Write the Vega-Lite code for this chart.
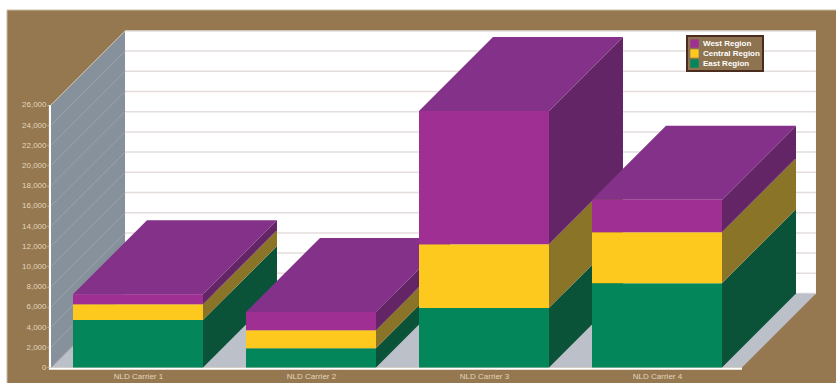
{
  "$schema": "https://vega.github.io/schema/vega-lite/v6.json",
  "width": 836,
  "height": 383,
  "padding": 0,
  "autosize": "none",
  "background": "#ffffff",
  "config": {"view": {"stroke": null}},
  "datasets": {
    "sales": [
      {"carrier": "NLD Carrier 1", "region": "East Region", "value": 4700},
      {"carrier": "NLD Carrier 1", "region": "Central Region", "value": 1550},
      {"carrier": "NLD Carrier 1", "region": "West Region", "value": 1000},
      {"carrier": "NLD Carrier 2", "region": "East Region", "value": 1900},
      {"carrier": "NLD Carrier 2", "region": "Central Region", "value": 1800},
      {"carrier": "NLD Carrier 2", "region": "West Region", "value": 1800},
      {"carrier": "NLD Carrier 3", "region": "East Region", "value": 5900},
      {"carrier": "NLD Carrier 3", "region": "Central Region", "value": 6300},
      {"carrier": "NLD Carrier 3", "region": "West Region", "value": 13200},
      {"carrier": "NLD Carrier 4", "region": "East Region", "value": 8350},
      {"carrier": "NLD Carrier 4", "region": "Central Region", "value": 5050},
      {"carrier": "NLD Carrier 4", "region": "West Region", "value": 3200}
    ],
    "ticks": [
      {"tick": 0}, {"tick": 2000}, {"tick": 4000}, {"tick": 6000}, {"tick": 8000},
      {"tick": 10000}, {"tick": 12000}, {"tick": 14000}, {"tick": 16000}, {"tick": 18000},
      {"tick": 20000}, {"tick": 22000}, {"tick": 24000}, {"tick": 26000}
    ],
    "planeEnds": [{"depth": 0}, {"depth": 1}],
    "single": [{"part": "chart"}]
  },
  "layer": [
    {
      "data": {"name": "single"},
      "mark": {"type": "rect", "fill": "#957850", "stroke": "#c9bda5", "strokeWidth": 1},
      "encoding": {
        "x": {
          "datum": -0.7572,
          "type": "quantitative",
          "title": null,
          "scale": {"domain": [-0.7977, 4.0347], "nice": false, "zero": false},
          "axis": {
            "values": [0, 1, 2, 3],
            "tickCount": 4,
            "labelExpr": "['NLD Carrier 1','NLD Carrier 2','NLD Carrier 3','NLD Carrier 4'][datum.value]",
            "domain": false,
            "ticks": false,
            "grid": false,
            "title": null,
            "zindex": 1,
            "offset": -11,
            "labelPadding": 0,
            "labelFont": "Liberation Sans",
            "labelFontSize": 8,
            "labelColor": "#e2d6bd",
            "labelFlush": false,
            "labelOverlap": false
          }
        },
        "x2": {"datum": 4.06},
        "y": {
          "datum": -1750,
          "type": "quantitative",
          "title": null,
          "scale": {"domain": [-1535, 36386], "nice": false, "zero": false},
          "axis": {
            "values": [0, 2000, 4000, 6000, 8000, 10000, 12000, 14000, 16000, 18000, 20000, 22000, 24000, 26000],
            "tickCount": 14,
            "format": ",d",
            "domain": false,
            "grid": false,
            "title": null,
            "zindex": 1,
            "offset": -49,
            "tickSize": 2,
            "tickColor": "#c9bda5",
            "labelPadding": 1,
            "labelFont": "Liberation Sans",
            "labelFontSize": 8,
            "labelColor": "#e2d6bd",
            "labelOverlap": false
          }
        },
        "y2": {"datum": 35396}
      }
    },
    {
      "data": {"name": "single"},
      "mark": {"type": "rect", "fill": "#ffffff"},
      "encoding": {
        "x": {"datum": -0.0752, "type": "quantitative"},
        "x2": {"datum": 3.919},
        "y": {"datum": 7327, "type": "quantitative"},
        "y2": {"datum": 33327}
      }
    },
    {
      "data": {"name": "ticks"},
      "transform": [{"calculate": "datum.tick + 7327", "as": "back"}],
      "mark": {"type": "rule", "stroke": "#e3dedc", "strokeWidth": 1.5},
      "encoding": {
        "x": {"datum": -0.0752, "type": "quantitative"},
        "x2": {"datum": 3.919},
        "y": {"field": "back", "type": "quantitative"}
      }
    },
    {
      "data": {"name": "planeEnds"},
      "transform": [
        {"calculate": "datum.depth * 7327", "as": "yBack"},
        {"calculate": "-0.5029 + datum.depth * 0.4277", "as": "xLeft"},
        {"calculate": "3.4913 + datum.depth * 0.4277", "as": "xRight"}
      ],
      "mark": {"type": "area", "orient": "horizontal", "fill": "#bcc0c8"},
      "encoding": {
        "y": {"field": "yBack", "type": "quantitative", "stack": null},
        "x": {"field": "xLeft", "type": "quantitative"},
        "x2": {"field": "xRight"}
      }
    },
    {
      "data": {"name": "planeEnds"},
      "transform": [
        {"calculate": "-0.5029 + datum.depth * 0.4277", "as": "xWall"},
        {"calculate": "datum.depth * 7327", "as": "yLow"},
        {"calculate": "26000 + datum.depth * 7327", "as": "yHigh"}
      ],
      "mark": {"type": "area", "orient": "vertical", "fill": "#86919c"},
      "encoding": {
        "x": {"field": "xWall", "type": "quantitative"},
        "y": {"field": "yLow", "type": "quantitative", "stack": null},
        "y2": {"field": "yHigh"}
      }
    },
    {
      "data": {"name": "ticks"},
      "transform": [{"calculate": "datum.tick + 7327", "as": "back"}],
      "mark": {"type": "rule", "strokeWidth": 1},
      "encoding": {
        "x": {"datum": -0.5029, "type": "quantitative"},
        "x2": {"datum": -0.0752},
        "y": {"field": "tick", "type": "quantitative"},
        "y2": {"field": "back"},
        "stroke": {"condition": {"test": "datum.tick === 26000", "value": "#cfc9bb"}, "value": "#9ba4ad"}
      }
    },
    {
      "data": {"name": "single"},
      "mark": {"type": "rect", "fill": "#ffffff"},
      "encoding": {
        "x": {"datum": -0.515, "type": "quantitative"},
        "x2": {"datum": 3.4913},
        "y": {"datum": -230, "type": "quantitative"},
        "y2": {"datum": 0}
      }
    },
    {
      "data": {"name": "single"},
      "mark": {"type": "rect", "fill": "#ffffff"},
      "encoding": {
        "x": {"datum": -0.515, "type": "quantitative"},
        "x2": {"datum": -0.5029},
        "y": {"datum": 0, "type": "quantitative"},
        "y2": {"datum": 26000}
      }
    },
    {
      "data": {"name": "sales"},
      "transform": [
        {"stack": "value", "groupby": ["carrier"], "as": ["low", "high"]},
        {"calculate": "indexof(['NLD Carrier 1','NLD Carrier 2','NLD Carrier 3','NLD Carrier 4'], datum.carrier)", "as": "slot"},
        {"calculate": "[0, 1]", "as": "depth"},
        {"flatten": ["depth"]},
        {"calculate": "datum.slot + 0.3757 + datum.depth * 0.4277", "as": "xSide"},
        {"calculate": "datum.low + datum.depth * 7327", "as": "ySideLow"},
        {"calculate": "datum.high + datum.depth * 7327", "as": "ySideHigh"}
      ],
      "mark": {"type": "area", "orient": "vertical"},
      "encoding": {
        "x": {"field": "xSide", "type": "quantitative"},
        "y": {"field": "ySideLow", "type": "quantitative", "stack": null},
        "y2": {"field": "ySideHigh"},
        "detail": {"field": "carrier"},
        "fill": {
          "field": "region",
          "type": "nominal",
          "legend": null,
          "scale": {"domain": ["West Region", "Central Region", "East Region"], "range": ["#632565", "#8a7427", "#0a5238"]}
        }
      }
    },
    {
      "data": {"name": "sales"},
      "transform": [
        {"stack": "value", "groupby": ["carrier"], "as": ["low", "high"]},
        {"filter": "datum.region === 'West Region'"},
        {"calculate": "indexof(['NLD Carrier 1','NLD Carrier 2','NLD Carrier 3','NLD Carrier 4'], datum.carrier)", "as": "slot"},
        {"calculate": "[0, 1]", "as": "depth"},
        {"flatten": ["depth"]},
        {"calculate": "datum.slot - 0.3757 + datum.depth * 0.4277", "as": "xTopLeft"},
        {"calculate": "datum.slot + 0.3757 + datum.depth * 0.4277", "as": "xTopRight"},
        {"calculate": "datum.high + datum.depth * 7327", "as": "yTop"}
      ],
      "mark": {"type": "area", "orient": "horizontal", "fill": "#84318a"},
      "encoding": {
        "y": {"field": "yTop", "type": "quantitative", "stack": null},
        "x": {"field": "xTopLeft", "type": "quantitative"},
        "x2": {"field": "xTopRight"},
        "detail": {"field": "carrier"}
      }
    },
    {
      "data": {"name": "sales"},
      "transform": [
        {"stack": "value", "groupby": ["carrier"], "as": ["low", "high"]},
        {"calculate": "indexof(['NLD Carrier 1','NLD Carrier 2','NLD Carrier 3','NLD Carrier 4'], datum.carrier)", "as": "slot"},
        {"calculate": "datum.slot - 0.3757", "as": "xFrontLeft"},
        {"calculate": "datum.slot + 0.3757", "as": "xFrontRight"}
      ],
      "mark": {"type": "rect"},
      "encoding": {
        "x": {"field": "xFrontLeft", "type": "quantitative"},
        "x2": {"field": "xFrontRight"},
        "y": {"field": "low", "type": "quantitative", "stack": null},
        "y2": {"field": "high"},
        "fill": {
          "field": "region",
          "type": "nominal",
          "scale": {"domain": ["West Region", "Central Region", "East Region"], "range": ["#9f2f92", "#fdc91f", "#03875a"]},
          "legend": {
            "title": null,
            "orient": "none",
            "legendX": 687,
            "legendY": 36,
            "padding": 3,
            "rowPadding": 1,
            "fillColor": "#8d7350",
            "strokeColor": "#4a2c20",
            "symbolType": "square",
            "symbolSize": 70,
            "symbolStrokeWidth": 0,
            "labelFont": "Liberation Sans",
            "labelFontSize": 8,
            "labelFontWeight": "bold",
            "labelColor": "#ffffff",
            "labelOffset": 4,
            "encode": {"legend": {"update": {"strokeWidth": {"value": 2}}}}
          }
        }
      }
    }
  ],
  "resolve": {"scale": {"fill": "independent"}}
}
